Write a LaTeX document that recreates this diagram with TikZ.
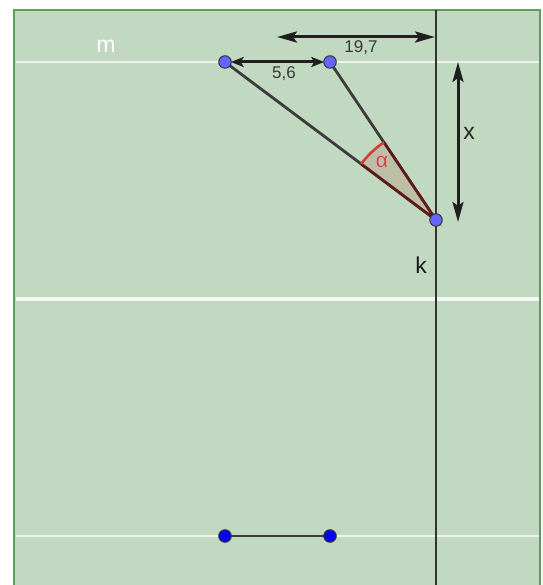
\documentclass[tikz,border=0pt]{standalone}
\usepackage{fontspec}
\setmainfont{Liberation Sans}
\usepackage[outline]{contour}
\contourlength{1.3pt}
\usetikzlibrary{arrows.meta,calc}
\definecolor{field}{RGB}{193,217,193}
\definecolor{fieldborder}{RGB}{92,158,92}
\definecolor{segcol}{RGB}{60,60,60}
\definecolor{ptlight}{RGB}{102,102,255}
\definecolor{ptdark}{RGB}{0,0,255}
\definecolor{sectorfill}{RGB}{188,190,166}
\definecolor{sectoredge}{RGB}{92,26,26}
\definecolor{arcred}{RGB}{210,60,60}
\tikzset{
  fieldline/.style={white, opacity=0.7, line width=2.4pt},
  fieldlinethick/.style={white, opacity=0.8, line width=4pt},
  seg/.style={segcol, line width=2.8pt},
  dimarrow/.style={black!88, line width=3pt, {Stealth[length=20pt,width=11pt,inset=4pt]}-{Stealth[length=20pt,width=11pt,inset=4pt]}},
  shortdimarrow/.style={black!88, line width=3pt, {Stealth[length=13pt,width=10pt,inset=3pt]}-{Stealth[length=13pt,width=10pt,inset=3pt]}},
  ptA/.style={circle, fill=ptlight, draw=black!80, line width=1pt, inner sep=0pt, minimum size=12.5pt},
  ptB/.style={circle, fill=ptdark, draw=black!80, line width=1pt, inner sep=0pt, minimum size=12.5pt},
  numlabel/.style={font=\fontsize{17}{17}\selectfont, text=black!78, inner sep=0pt},
  biglabel/.style={font=\fontsize{23}{23}\selectfont, inner sep=0pt},
}
\begin{document}
\begin{tikzpicture}[x=1pt,y=1pt]
\useasboundingbox (0,0) rectangle (542,585);
% field
\fill[field] (14,0) rectangle (540,575);
\draw[fieldborder, line width=2.6pt] (14,0) -- (14,575) -- (540,575) -- (540,0);
% white field lines
\coordinate (mL) at (15.5,523);
\coordinate (mR) at (538.5,523);
\coordinate (cL) at (15.5,286);
\coordinate (cR) at (538.5,286);
\coordinate (bL) at (15.5,49);
\coordinate (bR) at (538.5,49);
\draw[fieldline] (mL) -- (mR);
\draw[fieldlinethick] (cL) -- (cR);
\draw[fieldline] (bL) -- (bR);
% vertical line k
\coordinate (kT) at (436,575);
\coordinate (kB) at (436,0);
\draw[segcol!85!black, line width=2.8pt] (kT) -- (kB);
% points
\coordinate (P1c) at (225,523);
\coordinate (P2c) at (330,523);
\coordinate (Kc) at (436,365);
\coordinate (B1c) at (225,49);
\coordinate (B2c) at (330,49);
% segments
\draw[seg] (P1c) -- (Kc);
\draw[seg] (P2c) -- (Kc);
\draw[seg] (B1c) -- (B2c);
% sector
\fill[sectorfill] (Kc) -- ++(143.17:93.5) arc[start angle=143.17, end angle=123.86, radius=93.5] -- cycle;
\draw[sectoredge, line width=2.8pt] ($(Kc)+(143.17:93.5)$) -- (Kc) -- ($(Kc)+(123.86:93.5)$);
\draw[arcred, line width=2.6pt] ($(Kc)+(143.17:93.5)$) arc[start angle=143.17, end angle=123.86, radius=93.5];
% point nodes
\node[ptA] (P1) at (P1c) {};
\node[ptA] (P2) at (P2c) {};
\node[ptA] (K) at (Kc) {};
\node[ptB] (B1) at (B1c) {};
\node[ptB] (B2) at (B2c) {};
% dimension arrows
\coordinate (d1L) at (277,548);
\coordinate (d1R) at (435,548);
\draw[dimarrow] (d1L) -- (d1R);
\draw[shortdimarrow, shorten <=-1pt, shorten >=-1pt] (P1) -- (P2);
\coordinate (dxT) at (458,523);
\coordinate (dxB) at (458,363);
\draw[dimarrow] (dxT) -- (dxB);
% labels
\node[numlabel] (l197) at (361,537) {19,7};
\node[numlabel] (l56) at (284,511) {5,6};
\node[biglabel, text=black!85] (lx) at (469,452) {x};
\node[biglabel, text=white] (lm) at (106,539) {m};
\node[biglabel, text=black!90] (lk) at (421,320) {k};
\node[font=\fontsize{21}{21}\selectfont, text=arcred, inner sep=0pt] (lalpha) at (382,423) {\contour{white}{α}};
\end{tikzpicture}
\end{document}
